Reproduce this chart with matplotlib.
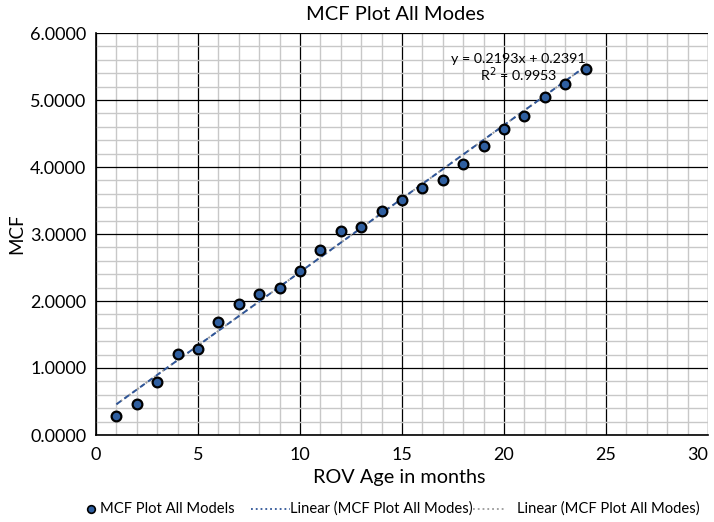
import matplotlib.pyplot as plt
from matplotlib.ticker import MultipleLocator, FormatStrFormatter
from matplotlib.lines import Line2D
import numpy as np

plt.rcParams['font.family'] = ['Lato', 'DejaVu Sans']

# ROV age (months) and mean cumulative function
months = [1, 2, 3, 4, 5, 6, 7, 8, 9, 10, 11, 12,
          13, 14, 15, 16, 17, 18, 19, 20, 21, 22, 23, 24]
mcf = [0.29, 0.47, 0.79, 1.21, 1.29, 1.69, 1.96, 2.10, 2.19, 2.45, 2.76, 3.04,
       3.11, 3.34, 3.51, 3.68, 3.81, 4.05, 4.32, 4.56, 4.76, 5.05, 5.24, 5.46]
xticks = [0, 5, 10, 15, 20, 25, 30]

# linear trend as reported on the chart
slope = 0.2193
intercept = 0.2391
r2 = 0.9953

W, H = 714, 522
fig = plt.figure(figsize=(W / 100, H / 100), dpi=100)
ax = fig.add_axes([96 / W, 1 - 435 / H, (708 - 96) / W, (435 - 33) / H])

ax.set_xlim(0, 30)
ax.set_ylim(0, 6)
ax.set_xticks(xticks)
ax.set_xticklabels([str(t) for t in xticks])
ax.xaxis.set_minor_locator(MultipleLocator(1))
ax.yaxis.set_major_locator(MultipleLocator(1))
ax.yaxis.set_minor_locator(MultipleLocator(0.2))
ax.yaxis.set_major_formatter(FormatStrFormatter('%.4f'))

ax.grid(True, which='minor', color='#c8c8c8', linewidth=1.0)
ax.grid(True, which='major', color='black', linewidth=0.9)
ax.set_axisbelow(True)
ax.tick_params(which='both', length=0, labelsize=13)
ax.tick_params(axis='x', pad=9)
ax.tick_params(axis='y', pad=7)
for side in ['top', 'right']:
    ax.spines[side].set_visible(False)
for side in ['left', 'bottom']:
    ax.spines[side].set_color('black')
    ax.spines[side].set_linewidth(1.2)

# keep the last x label inside the figure
ax.get_xticklabels()[-1].set_horizontalalignment('right')

xt = np.array([months[0], months[-1]])
yt = slope * xt + intercept
ax.plot(xt, yt, color='#9a9a9a', linewidth=1.4, linestyle=':', zorder=3)
ax.plot(xt, yt, color='#2f5597', linewidth=1.4, linestyle=(0, (3, 2)), zorder=4)

ax.plot(months, mcf, linestyle='none', marker='o', markersize=7,
        markerfacecolor='#2f5fa0', markeredgecolor='black',
        markeredgewidth=1.6, zorder=5)

ax.text(20.7, 5.47, 'y = %.4fx + %.4f\nR$^2$ = %.4f' % (slope, intercept, r2),
        ha='center', va='center', multialignment='center',
        fontsize=10.3, linespacing=1.05, zorder=6)

fig.text(395 / W, 1 - 14 / H, 'MCF Plot All Modes', fontsize=14.5,
         ha='center', va='center')
fig.text(399 / W, 1 - 477 / H, 'ROV Age in months', fontsize=14.3,
         ha='center', va='center')
fig.text(17 / W, 1 - 234 / H, 'MCF', fontsize=13.5, rotation=90,
         ha='center', va='center')

# legend row along the bottom
ly = 1 - 509 / H
fig.add_artist(Line2D([91 / W], [ly], transform=fig.transFigure,
                      linestyle='none', marker='o', markersize=5.5,
                      markerfacecolor='#2f5fa0', markeredgecolor='black',
                      markeredgewidth=1.2))
fig.text(100 / W, ly, 'MCF Plot All Models', fontsize=10.6, va='center')
fig.add_artist(Line2D([251 / W, 290 / W], [ly, ly], transform=fig.transFigure,
                      color='#2f5597', linewidth=1.3, linestyle=':'))
fig.text(290 / W, ly, 'Linear (MCF Plot All Modes)', fontsize=10.6, va='center')
fig.add_artist(Line2D([473 / W, 506 / W], [ly, ly], transform=fig.transFigure,
                      color='#9a9a9a', linewidth=1.3, linestyle=':'))
fig.text(517 / W, ly, 'Linear (MCF Plot All Modes)', fontsize=10.6, va='center')

fig.savefig('out.png', dpi=100)
